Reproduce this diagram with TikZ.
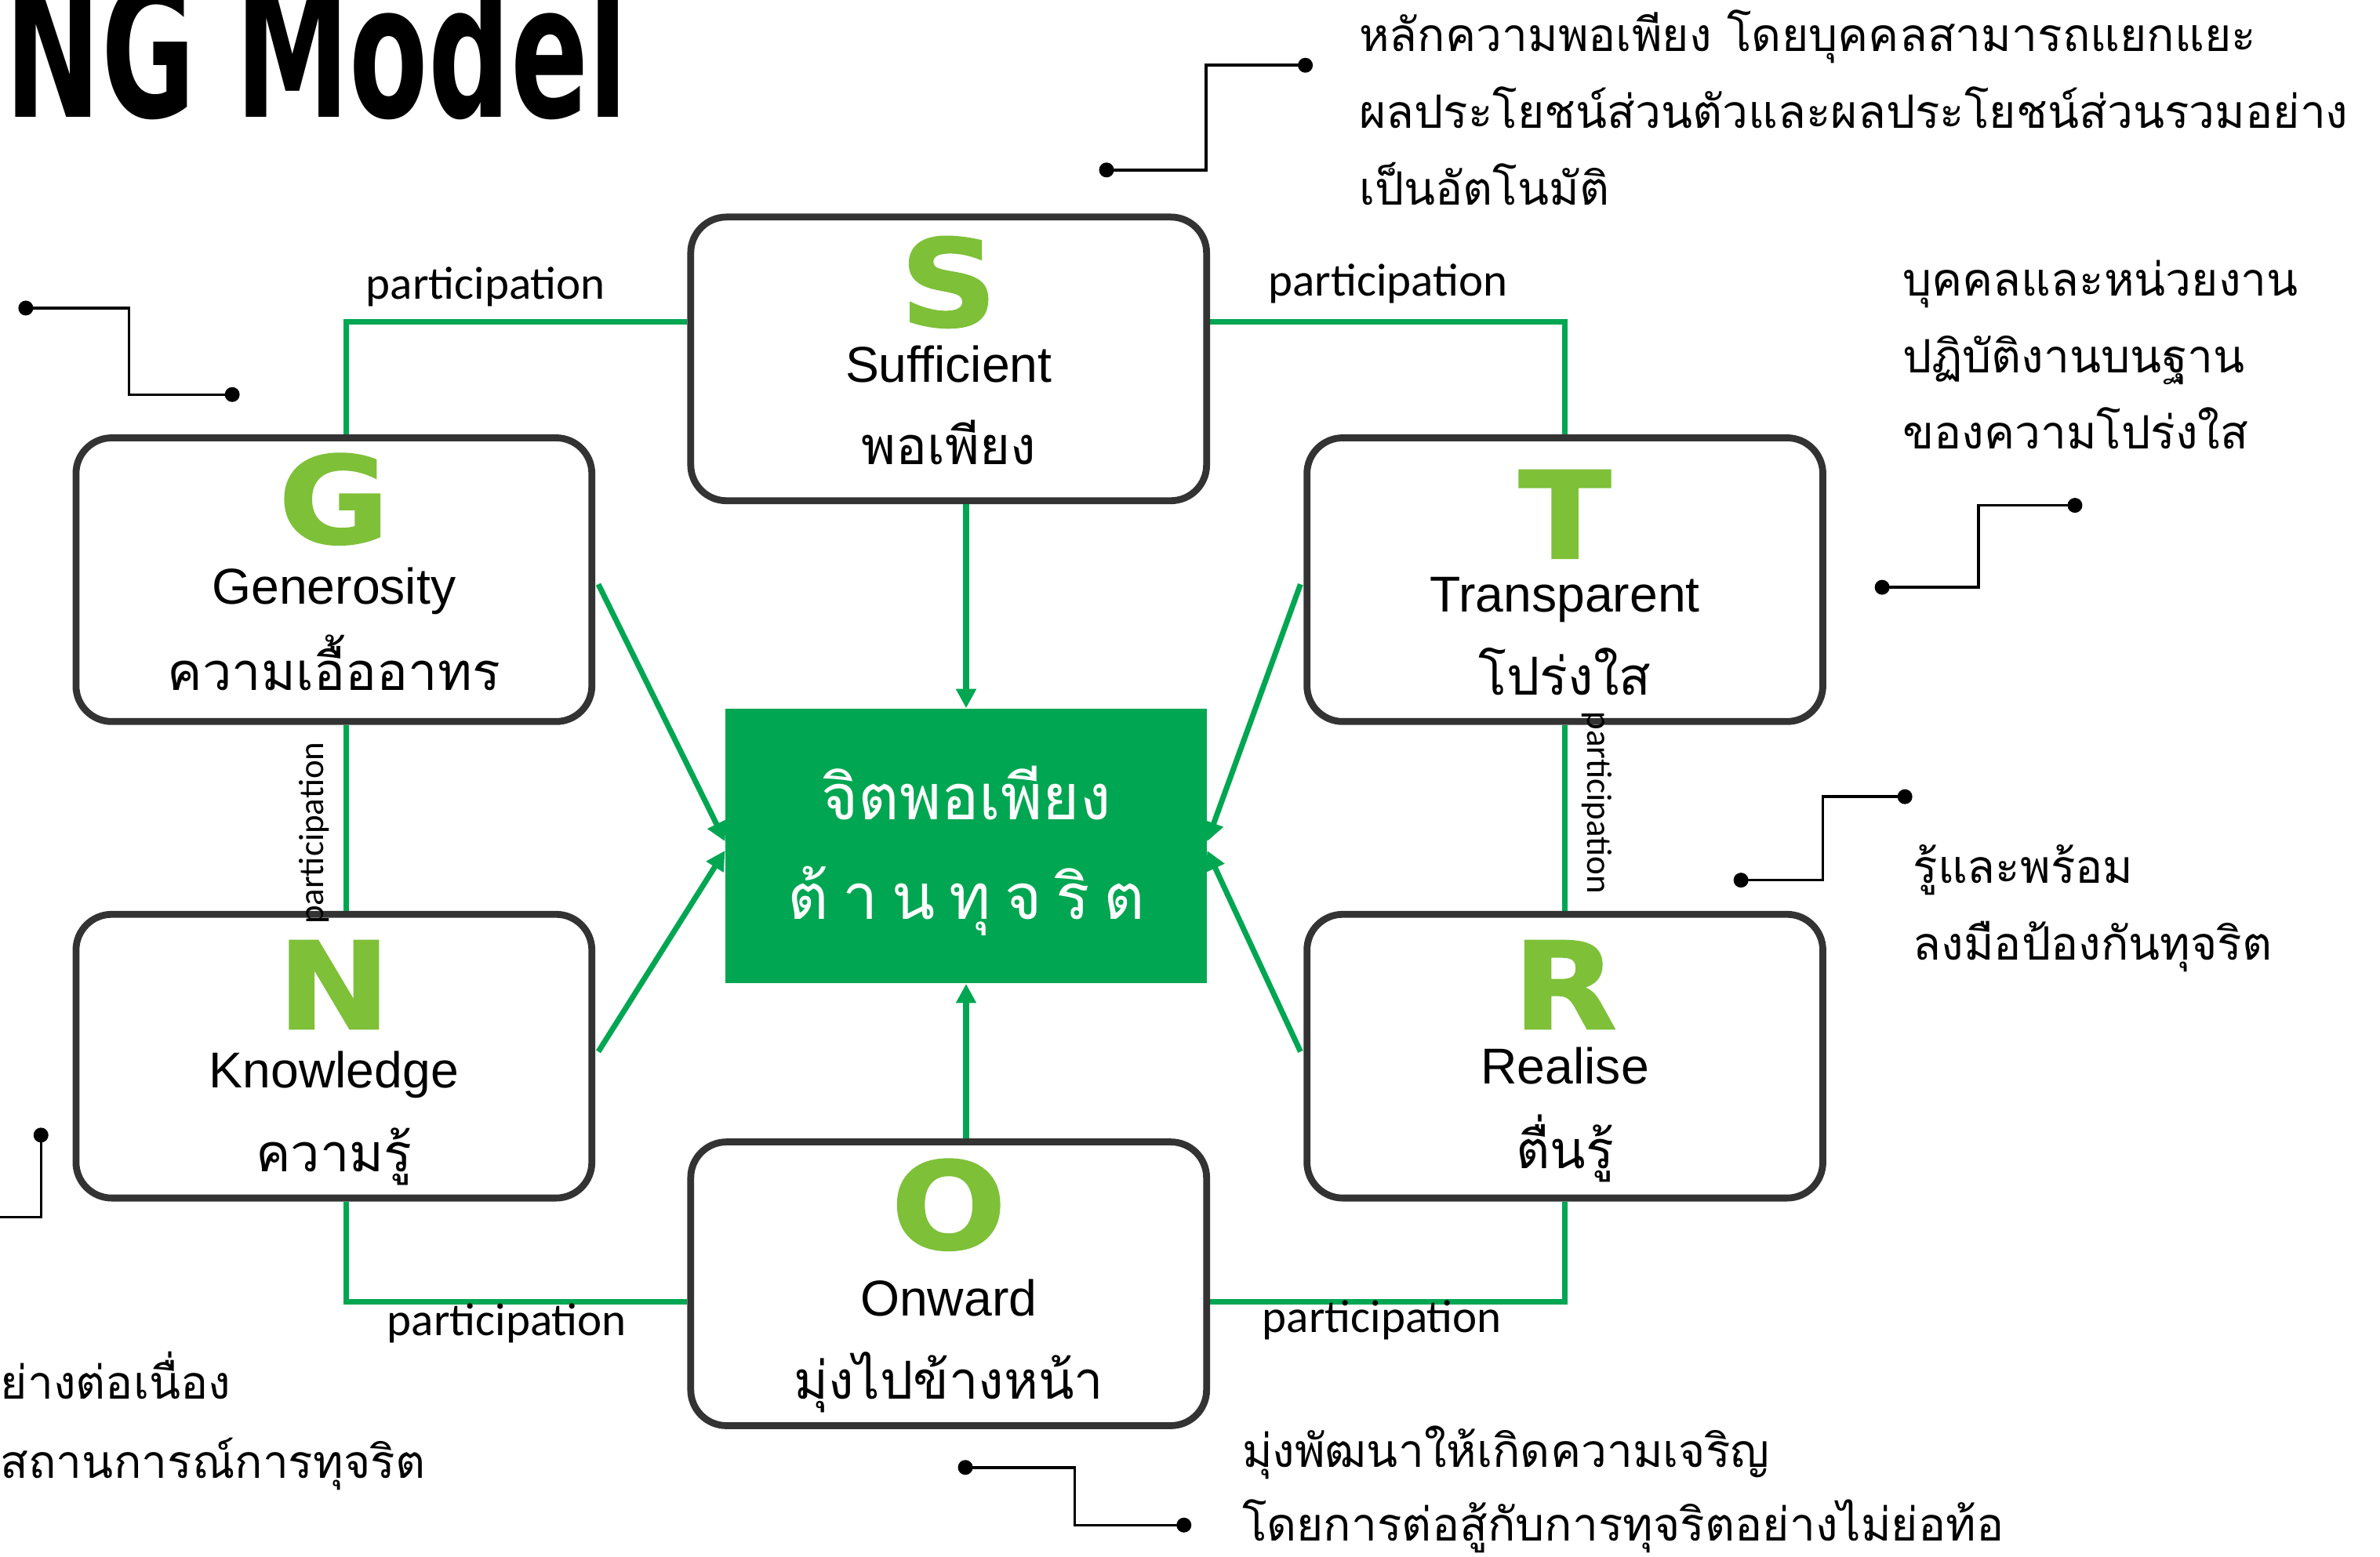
\documentclass[tikz,border=0pt]{standalone}
\usepackage{fontspec}
\setmainfont{Liberation Sans}
\newfontfamily\thaifont[Script=Thai]{Loma}
\newfontfamily\calfont{Carlito}
\newfontfamily\heavyfont{DejaVu Sans}
\newfontfamily\blackfont{DejaVu Sans}[UprightFont={* Bold}, FakeStretch=1.12, FakeBold=1.2]
\usepackage{graphicx}
\usepackage{tikz}
\usetikzlibrary{arrows.meta, calc, backgrounds}
\definecolor{leaf}{RGB}{0,166,81}
\definecolor{lime}{RGB}{126,192,56}
\definecolor{rim}{RGB}{51,51,51}

\begin{document}
\begin{tikzpicture}[x=0.019356cm, y=-0.019356cm,
pillar/.style={rectangle, rounded corners=13pt, draw=rim, line width=2.5pt, fill=white, minimum width=6.581cm, minimum height=3.62cm},
core/.style={rectangle, fill=leaf, minimum width=6.136cm, minimum height=3.503cm},
letter/.style={anchor=base, inner sep=0pt, text=lime, font=\blackfont\fontsize{44}{44}\selectfont},
word/.style={anchor=base, inner sep=0pt, font=\fontsize{18.3}{20}\selectfont},
thai/.style={anchor=base, inner sep=0pt, font=\thaifont\fontsize{19}{22}\selectfont},
note/.style={anchor=base west, inner sep=0pt, font=\thaifont\fontsize{16.7}{20}\selectfont},
tag/.style={inner sep=0pt, font=\calfont\fontsize{16.8}{18}\selectfont},
vtag/.style={inner sep=0pt, font=\calfont\fontsize{12.8}{14}\selectfont},
link/.style={draw=leaf, line width=2pt},
arr/.style={draw=leaf, line width=2pt, -{Triangle[length=7pt,width=7pt]}},
knob/.style={circle, fill=black, inner sep=0pt, minimum size=0.19cm},
lead/.style={draw=black, line width=1pt}]
\def\fy{50.5}
\useasboundingbox (0,0) rectangle (1568,1026);
\clip (0,0) rectangle (1568,1026);
% title
\node[anchor=base west, inner sep=0pt] (title) at (3,77) {\resizebox{7.94cm}{1.80cm}{\heavyfont\bfseries NG Model}};
% boxes
\node[pillar] (S) at (625,236.5) {};
\node[pillar] (G) at (220,382) {};
\node[pillar] (T) at (1031,382) {};
\node[pillar] (N) at (220,696) {};
\node[pillar] (R) at (1031,696) {};
\node[pillar] (O) at (625,846) {};
\node[core] (core) at (636.5,557.5) {};
\node[letter] (S-l) at (625,215) {S};
\node[word] (S-en) at (625,252) {Sufficient};
\node[thai] (S-th) at (625,306) {พอเพียง};
\node[letter] (G-l) at (220,358) {G};
\node[word] (G-en) at (220,398) {Generosity};
\node[thai] (G-th) at (220,455) {ความเอื้ออาทร};
\node[letter] (T-l) at (1031,368) {T};
\node[word] (T-en) at (1031,403) {Transparent};
\node[thai] (T-th) at (1031,458) {โปร่งใส};
\node[letter] (N-l) at (220,678) {N};
\node[word] (N-en) at (220,717) {Knowledge};
\node[thai] (N-th) at (220,772) {ความรู้};
\node[letter] (R-l) at (1031,678) {R};
\node[word] (R-en) at (1031,714) {Realise};
\node[thai] (R-th) at (1031,770) {ตื่นรู้};
\node[letter] (O-l) at (625,823) {O};
\node[word] (O-en) at (625,867) {Onward};
\node[thai] (O-th) at (625,922) {มุ่งไปข้างหน้า};
% centre
\node[anchor=base, text=white, font=\thaifont\fontsize{23}{26}\selectfont] (core-1) at (636.5,540) {จิตพอเพียง};
\node[anchor=base, text=white, font=\thaifont\fontsize{23}{26}\selectfont] (core-2) at (636.5,606) {ต้\hspace{5pt}า\hspace{5pt}น\hspace{5pt}ทุ\hspace{5pt}จ\hspace{5pt}ริ\hspace{5pt}ต};
% links
\coordinate (gs) at (228,212);
\coordinate (ts) at (1031,212);
\coordinate (no) at (228,858);
\coordinate (ro) at (1031,858);
\begin{scope}[on background layer]
\draw[link] (S.west |- gs) -- (gs) -- (G.north -| gs);
\draw[link] (S.east |- ts) -- (ts) -- (T.north -| ts);
\draw[link] (G.south -| gs) -- (N.north -| gs);
\draw[link] (T.south) -- (R.north);
\draw[link] (N.south -| no) -- (no) -- (O.west |- no);
\draw[link] (R.south) -- (ro) -- (O.east |- ro);
\end{scope}
\node[tag, anchor=base] (p1) at (320,197) {participation};
\node[tag, anchor=base] (p2) at (914.5,195) {participation};
\node[vtag, rotate=90] (p3) at (207,549) {participation};
\node[vtag, rotate=-90] (p4) at (1052,529) {participation};
\node[tag, anchor=base] (p5) at (334,880) {participation};
\node[tag, anchor=base] (p6) at (910.5,878) {participation};
% arrows
\draw[arr] (core.north |- S.south) -- (core.north);
\draw[arr] (core.south |- O.north) -- (core.south);
\draw[arr] ($(G.east)+(2,3)$) -- ($(core.west)+(0,-3)$);
\draw[arr] ($(N.east)+(2,-3)$) -- ($(core.west)+(0,3)$);
\draw[arr] ($(T.west)+(-2,3)$) -- ($(core.east)+(0,-3)$);
\draw[arr] ($(R.west)+(-2,-3)$) -- ($(core.east)+(0,3)$);
% leaders
\node[knob] (a1) at (729,112) {};
\node[knob] (a2) at (860,43) {};
\node[knob] (b1) at (17,203) {};
\node[knob] (b2) at (153,260) {};
\node[knob] (c1) at (1240,387) {};
\node[knob] (c2) at (1367,333) {};
\node[knob] (d1) at (1147,580) {};
\node[knob] (d2) at (1255,525) {};
\node[knob] (e1) at (27,748) {};
\coordinate (e0) at (-5,802);
\node[knob] (f1) at (636,967) {};
\node[knob] (f2) at (780,1005) {};
\draw[lead] (a1.center) -| ($(a1)!.5!(a2)$) |- (a2.center);
\draw[lead] (b1.center) -| ($(b1)!.5!(b2)$) |- (b2.center);
\draw[lead] (c1.center) -| ($(c1)!.5!(c2)$) |- (c2.center);
\draw[lead] (d1.center) -| ($(d1)!.5!(d2)$) |- (d2.center);
\draw[lead] (e1.center) |- (e0);
\draw[lead] (f1.center) -| ($(f1)!.5!(f2)$) |- (f2.center);
% notes
\node[note] (A1) at (895,34) {หลักความพอเพียง โดยบุคคลสามารถแยกแยะ};
\node[note] (A2) at (895,34+1*\fy) {ผลประโยชน์ส่วนตัวและผลประโยชน์ส่วนรวมอย่าง};
\node[note] (A3) at (895,34+2*\fy) {เป็นอัตโนมัติ};
\node[note] (B1) at (1253,195) {บุคคลและหน่วยงาน};
\node[note] (B2) at (1253,195+1*\fy) {ปฏิบัติงานบนฐาน};
\node[note] (B3) at (1253,195+2*\fy) {ของความโปร่งใส};
\node[note] (C1) at (1260,582) {รู้และพร้อม};
\node[note] (C2) at (1260,582+1*\fy) {ลงมือป้องกันทุจริต};
\node[note] (D1) at (818,967) {มุ่งพัฒนาให้เกิดความเจริญ};
\node[note] (D2) at (818,967+0.96*\fy) {โดยการต่อสู้กับการทุจริตอย่างไม่ย่อท้อ};
\node[note] (E1) at (0,922) {ย่างต่อเนื่อง};
\node[note] (E2) at (0,922+1.03*\fy) {สถานการณ์การทุจริต};
\end{tikzpicture}
\end{document}
